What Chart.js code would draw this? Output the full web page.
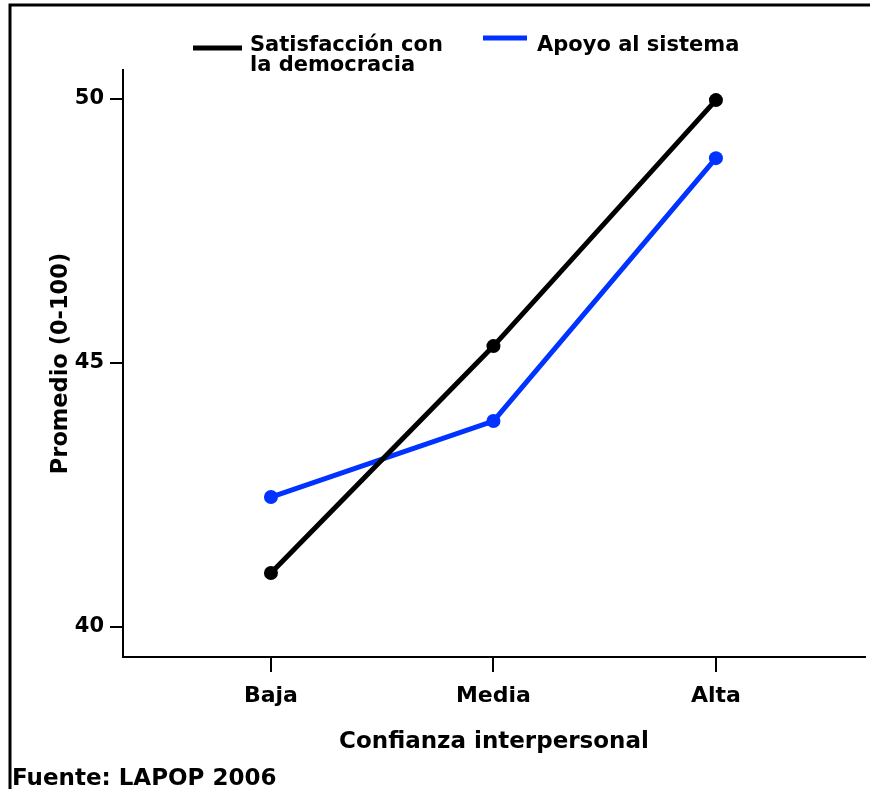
<!DOCTYPE html>
<html>
<head>
<meta charset="utf-8">
<script src="https://cdn.jsdelivr.net/npm/chart.js@4/dist/chart.umd.min.js"></script>
<style>
  html, body { margin: 0; padding: 0; background: #fff; }
  #wrap { position: relative; width: 875px; height: 789px; }
</style>
</head>
<body>
<div id="wrap"><canvas id="lapop_chart" width="875" height="789"></canvas></div>
<script>
const categories = ['Baja', 'Media', 'Alta'];
const satisfaccion = [41.02, 45.32, 49.98];
const apoyo = [42.46, 43.90, 48.88];
const y_ticks = [40, 45, 50];

const font_family = '"DejaVu Sans", sans-serif';

const to_points = vals => vals.map((v, i) => ({x: i, y: v}));

// legend + frame + source note drawn by hand
const extras_plugin = {
  id: 'extras',
  afterDraw(chart) {
    const ctx = chart.ctx;
    ctx.save();
    ctx.strokeStyle = '#000';
    ctx.lineWidth = 3;
    ctx.beginPath();
    ctx.moveTo(10, 789);
    ctx.lineTo(10, 5);
    ctx.lineTo(870, 5);
    ctx.stroke();

    ctx.font = 'bold 21px ' + font_family;
    ctx.textBaseline = 'alphabetic';
    ctx.fillStyle = '#000';
    const ds = chart.data.datasets;
    // series 1
    ctx.lineWidth = 5;
    ctx.strokeStyle = ds[0].borderColor;
    ctx.beginPath(); ctx.moveTo(193, 48); ctx.lineTo(242, 48); ctx.stroke();
    ctx.fillText('Satisfacción con', 250, 51);
    ctx.fillText('la democracia', 250, 71);
    // series 2
    ctx.strokeStyle = ds[1].borderColor;
    ctx.beginPath(); ctx.moveTo(483, 38); ctx.lineTo(527, 38); ctx.stroke();
    ctx.fillText('Apoyo al sistema', 537, 51);

    ctx.font = 'bold 23px ' + font_family;
    ctx.fillText('Fuente: LAPOP 2006', 12, 785);
    ctx.restore();
  }
};

const lapop_config = {
  type: 'line',
  data: {
    datasets: [{
      label: 'Satisfacción con la democracia',
      data: to_points(satisfaccion),
      borderColor: '#000000',
      backgroundColor: '#000000',
      borderWidth: 5,
      pointRadius: 7,
      pointBorderWidth: 0,
      tension: 0
    }, {
      label: 'Apoyo al sistema',
      data: to_points(apoyo),
      borderColor: '#0033ff',
      backgroundColor: '#0033ff',
      borderWidth: 5,
      pointRadius: 7,
      pointBorderWidth: 0,
      tension: 0
    }]
  },
  options: {
    responsive: false,
    animation: false,
    layout: { padding: { left: 0, top: 70, right: 10, bottom: 0 } },
    plugins: {
      legend: { display: false },
      tooltip: { enabled: false }
    },
    scales: {
      x: {
        type: 'linear',
        min: -0.665,
        max: 2.67,
        afterBuildTicks: s => { s.ticks = categories.map((c, i) => ({value: i})); },
        afterFit: s => { s.height = 132; },
        ticks: {
          callback: v => categories[v],
          color: '#000',
          padding: 11,
          maxRotation: 0,
          font: { family: font_family, size: 22, weight: 'bold' }
        },
        grid: { drawOnChartArea: false, drawTicks: true, tickLength: 15, color: '#000', lineWidth: 2 },
        border: { display: true, color: '#000', width: 2 },
        title: {
          display: true,
          text: 'Confianza interpersonal',
          color: '#000',
          padding: { top: 0, bottom: 33 },
          font: { family: font_family, size: 23, weight: 'bold' }
        }
      },
      y: {
        min: 39.43,
        max: 50.55,
        afterBuildTicks: s => { s.ticks = y_ticks.map(v => ({value: v})); },
        afterFit: s => { s.width = 123; },
        ticks: {
          color: '#000',
          padding: 6,
          font: { family: font_family, size: 21, weight: 'bold' }
        },
        grid: { drawOnChartArea: false, drawTicks: true, tickLength: 13, color: '#000', lineWidth: 2 },
        border: { display: true, color: '#000', width: 2 },
        title: {
          display: true,
          text: 'Promedio (0-100)',
          color: '#000',
          padding: { top: 48, bottom: 0 },
          font: { family: font_family, size: 22.5, weight: 'bold' }
        }
      }
    }
  },
  plugins: [extras_plugin]
};

const lapop_chart = new Chart(document.getElementById('lapop_chart'), lapop_config);
</script>
</body>
</html>
